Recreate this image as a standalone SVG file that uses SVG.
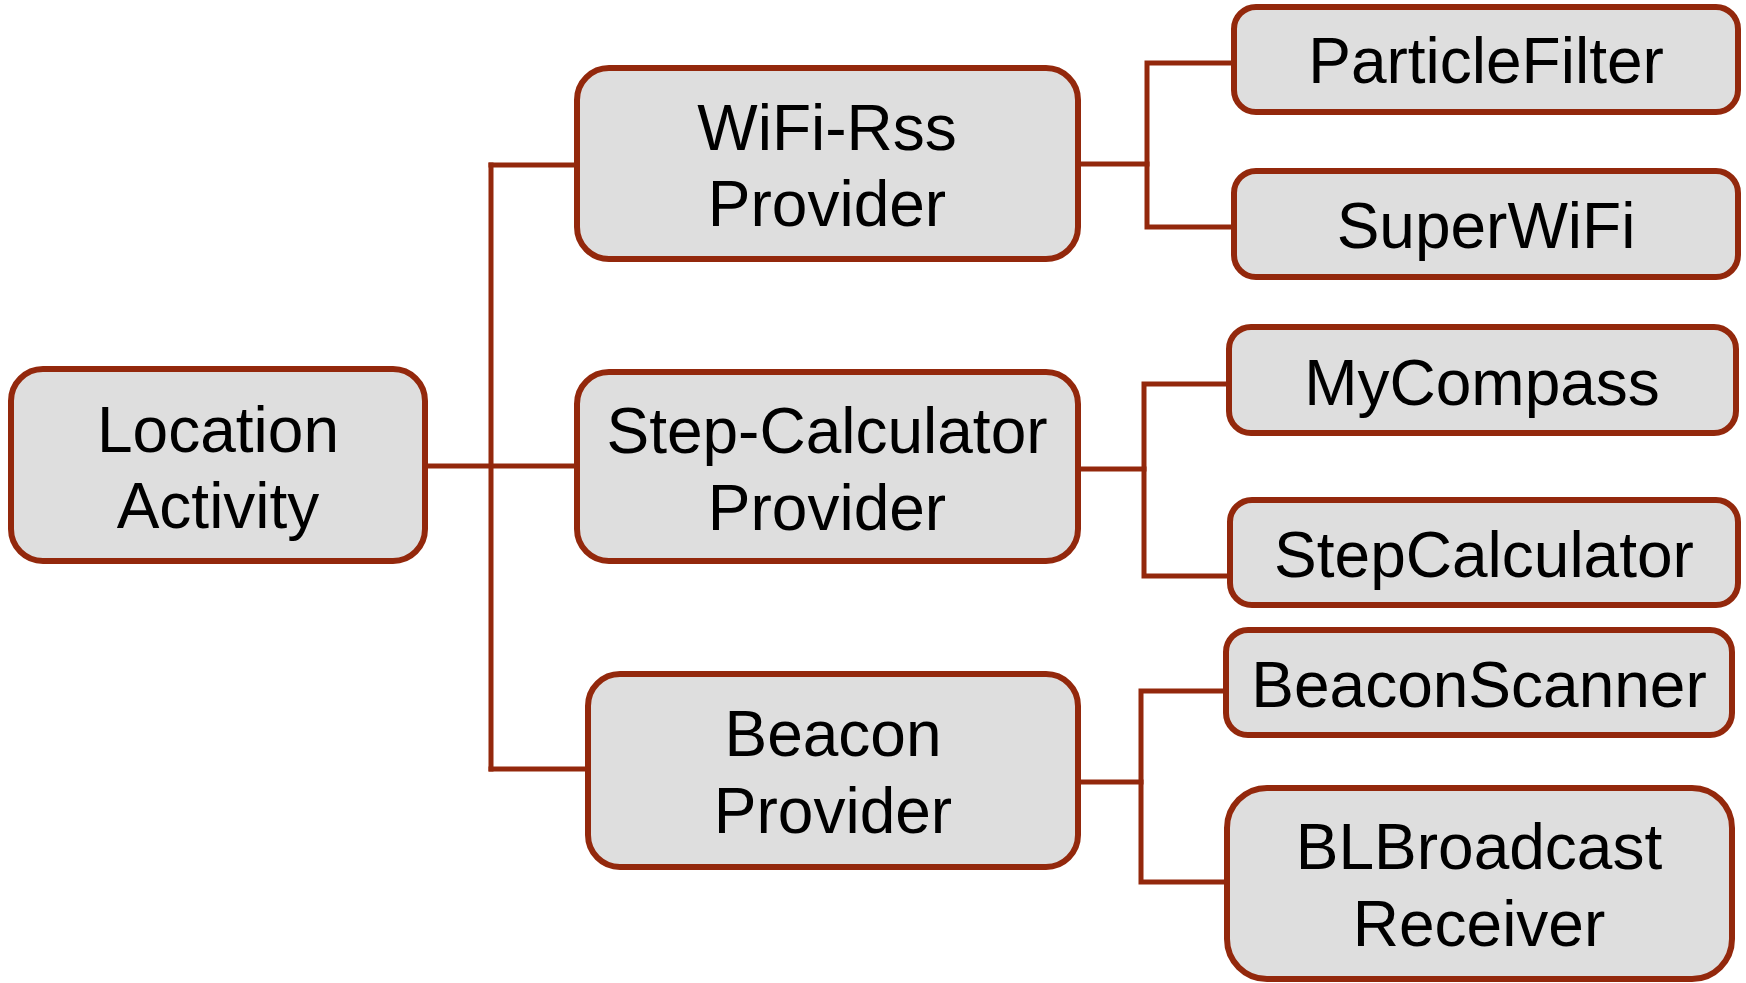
<svg xmlns="http://www.w3.org/2000/svg" width="1746" height="983" viewBox="0 0 1746 983">
  <style>
    .box { fill: #DEDEDE; stroke: #93280C; stroke-width: 6; }
    .link { fill: none; stroke: #93280C; stroke-width: 5; stroke-linecap: square; stroke-linejoin: miter; }
    .label { font-family: "Liberation Sans", Arial, sans-serif; font-size: 64px; fill: #000; text-anchor: middle; }
  </style>
  <rect width="1746" height="983" fill="#FFFFFF"/>

  <!-- tree connectors -->
  <g id="connectors">
    <path class="link" d="M426 466 H576"/>
    <path class="link" d="M491 165 V769"/>
    <path class="link" d="M491 165 H576"/>
    <path class="link" d="M491 769 H587"/>
    <!-- WiFi-Rss branch -->
    <path class="link" d="M1081 164 H1147"/>
    <path class="link" d="M1232 63 H1147 V227 H1232"/>
    <!-- Step-Calculator branch -->
    <path class="link" d="M1078 469 H1144"/>
    <path class="link" d="M1226 384 H1144 V576 H1228"/>
    <!-- Beacon branch -->
    <path class="link" d="M1078 782 H1141"/>
    <path class="link" d="M1223 691 H1141 V882 H1224"/>
  </g>

  <g id="location-activity">
    <rect class="box" x="11" y="369" width="414" height="192" rx="32"/>
    <text class="label" x="218" y="452">Location</text>
    <text class="label" x="218" y="528">Activity</text>
  </g>

  <g id="wifi-rss-provider">
    <rect class="box" x="577" y="68" width="501" height="191" rx="32"/>
    <text class="label" x="827" y="150">WiFi-Rss</text>
    <text class="label" x="827" y="226">Provider</text>
  </g>

  <g id="step-calculator-provider">
    <rect class="box" x="577" y="372" width="501" height="189" rx="32"/>
    <text class="label" x="827" y="453">Step-Calculator</text>
    <text class="label" x="827" y="530">Provider</text>
  </g>

  <g id="beacon-provider">
    <rect class="box" x="588" y="674" width="490" height="193" rx="32"/>
    <text class="label" x="833" y="756">Beacon</text>
    <text class="label" x="833" y="833">Provider</text>
  </g>

  <g id="particle-filter">
    <rect class="box" x="1234" y="7" width="504" height="105" rx="22"/>
    <text class="label" x="1486" y="83">ParticleFilter</text>
  </g>

  <g id="super-wifi">
    <rect class="box" x="1234" y="171" width="504" height="106" rx="22"/>
    <text class="label" x="1486" y="248">SuperWiFi</text>
  </g>

  <g id="my-compass">
    <rect class="box" x="1229" y="327" width="507" height="106" rx="22"/>
    <text class="label" x="1482" y="405">MyCompass</text>
  </g>

  <g id="step-calculator">
    <rect class="box" x="1230" y="500" width="508" height="105" rx="22"/>
    <text class="label" x="1484" y="577">StepCalculator</text>
  </g>

  <g id="beacon-scanner">
    <rect class="box" x="1226" y="630" width="506" height="105" rx="22"/>
    <text class="label" x="1479" y="707">BeaconScanner</text>
  </g>

  <g id="bl-broadcast-receiver">
    <rect class="box" x="1227" y="788" width="505" height="191" rx="40"/>
    <text class="label" x="1479" y="869">BLBroadcast</text>
    <text class="label" x="1479" y="946">Receiver</text>
  </g>
</svg>
